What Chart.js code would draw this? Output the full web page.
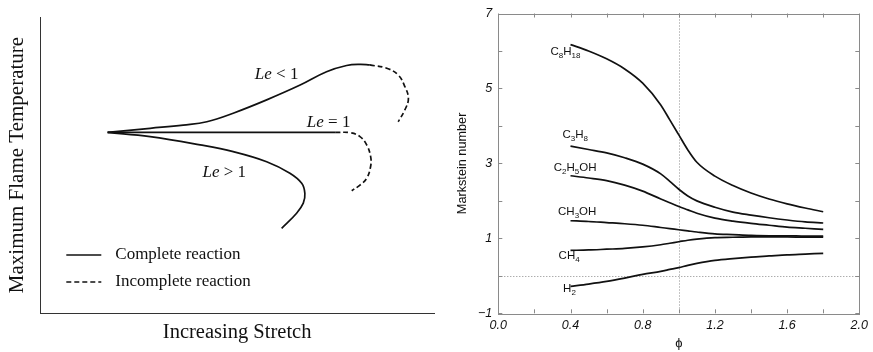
<!DOCTYPE html>
<html lang="en">
  <head>
    <meta charset="UTF-8" />
    <meta name="viewport" content="width=device-width, initial-scale=1.0" />
    <title>Flame stretch and Markstein numbers</title>
    <script src="https://cdn.jsdelivr.net/npm/chart.js@4.4.0/dist/chart.umd.min.js"></script>
    <style>
      body { margin: 0; background: #fff; }
      #wrap { position: relative; width: 873px; height: 352px; }
      .panel { position: absolute; top: 0; height: 352px; }
      #left { left: 0; width: 440px; }
      #right { left: 440px; width: 433px; }
    </style>
  </head>
  <body>
    <div id="wrap">
      <div class="panel" id="left"><canvas id="stretchChart"></canvas></div>
      <div class="panel" id="right"><canvas id="marksteinChart"></canvas></div>
    </div>

    <script>
      // Left panel: max flame temperature vs stretch, arbitrary units (0-10 on both axes)
      const leLtSolidX = [1.71, 2.79, 3.63, 4.23, 4.90, 5.75, 6.60, 7.27, 7.78, 8.12, 8.37];
      const leLtSolidY = [6.10, 6.24, 6.35, 6.46, 6.75, 7.20, 7.70, 8.15, 8.36, 8.40, 8.38];
      const leLtDashX = [8.37, 8.80, 9.09, 9.26, 9.35, 9.26, 9.09];
      const leLtDashY = [8.38, 8.27, 8.04, 7.65, 7.25, 6.86, 6.46];
      const leEqSolidX = [1.71, 7.49];
      const leEqSolidY = [6.10, 6.10];
      const leEqDashX = [7.49, 7.87, 8.12, 8.29, 8.39, 8.39, 8.29, 8.12, 7.91];
      const leEqDashY = [6.10, 6.09, 5.96, 5.68, 5.29, 4.95, 4.55, 4.32, 4.13];
      const leGtSolidX = [1.71, 2.79, 4.06, 4.90, 5.75, 6.34, 6.64, 6.72, 6.68, 6.51, 6.13];
      const leGtSolidY = [6.10, 5.96, 5.68, 5.45, 5.11, 4.72, 4.38, 4.04, 3.71, 3.37, 2.86];

      const leNames = ['Le < 1', 'Le = 1', 'Le > 1'];
      const leLabelX = [5.45, 6.77, 4.12];
      const leLabelY = [7.91, 6.29, 4.58];

      // Right panel: Markstein number vs equivalence ratio
      const phi = [0.4, 0.5, 0.6, 0.7, 0.8, 0.9, 0.95, 1.0, 1.05, 1.1, 1.2, 1.3, 1.4, 1.5, 1.6, 1.7, 1.8];
      const c8h18 = [6.17, 6.00, 5.79, 5.52, 5.14, 4.56, 4.16, 3.76, 3.36, 3.03, 2.66, 2.41, 2.21, 2.05, 1.92, 1.81, 1.71];
      const c3h8 = [3.46, 3.37, 3.28, 3.15, 2.98, 2.72, 2.52, 2.31, 2.13, 2.00, 1.83, 1.70, 1.62, 1.55, 1.49, 1.44, 1.41];
      const c2h5oh = [2.67, 2.61, 2.54, 2.42, 2.26, 2.05, 1.95, 1.85, 1.76, 1.67, 1.54, 1.46, 1.40, 1.35, 1.30, 1.27, 1.24];
      const ch3oh = [1.47, 1.45, 1.42, 1.39, 1.35, 1.29, 1.26, 1.23, 1.20, 1.17, 1.12, 1.10, 1.08, 1.07, 1.07, 1.06, 1.06];
      const ch4 = [0.68, 0.69, 0.71, 0.73, 0.77, 0.83, 0.87, 0.91, 0.95, 0.98, 1.02, 1.03, 1.04, 1.04, 1.04, 1.03, 1.03];
      const h2 = [-0.28, -0.22, -0.15, -0.06, 0.04, 0.12, 0.17, 0.22, 0.28, 0.33, 0.41, 0.46, 0.50, 0.53, 0.56, 0.58, 0.60];

      const fuels = ['C8H18', 'C3H8', 'C2H5OH', 'CH3OH', 'CH4', 'H2'];
      const fuelValues = [c8h18, c3h8, c2h5oh, ch3oh, ch4, h2];
      const fuelLabelPhi = [0.289, 0.356, 0.307, 0.331, 0.334, 0.359];
      const fuelLabelMk = [5.90, 3.68, 2.80, 1.63, 0.46, -0.43];

      const stoichPhi = 1.0;
      const zeroMk = 0;

      const pts = (xs, ys) => xs.map((x, i) => ({ x: x, y: ys[i] }));

      Chart.defaults.devicePixelRatio = 1;
      Chart.defaults.animation = false;
      Chart.defaults.color = '#111';

      const SERIF = '"Liberation Serif", "Times New Roman", serif';
      const SANS = '"Liberation Sans", Arial, sans-serif';

      function curve(data, dashed) {
        return {
          data: data,
          showLine: true,
          borderColor: '#111',
          borderWidth: 1.7,
          borderDash: dashed ? [5, 3] : [],
          pointRadius: 0,
          tension: 0.4,
          fill: false
        };
      }

      // Le labels and the little legend in the lower left
      const stretchNotes = {
        id: 'stretchNotes',
        afterDatasetsDraw(chart) {
          const ctx = chart.ctx;
          const { x, y } = chart.scales;
          const area = chart.chartArea;
          ctx.save();
          ctx.fillStyle = '#111';
          ctx.textBaseline = 'alphabetic';
          leNames.forEach((name, i) => {
            let px = x.getPixelForValue(leLabelX[i]);
            const py = y.getPixelForValue(leLabelY[i]);
            ctx.font = 'italic 17px ' + SERIF;
            ctx.fillText('Le', px, py);
            px += ctx.measureText('Le').width;
            ctx.font = '17px ' + SERIF;
            ctx.fillText(name.slice(2), px, py);
          });

          const rows = [['Complete reaction', []], ['Incomplete reaction', [5, 3]]];
          rows.forEach((row, i) => {
            const ly = area.bottom - 58 + i * 27;
            ctx.strokeStyle = '#111';
            ctx.lineWidth = 1.5;
            ctx.setLineDash(row[1]);
            ctx.beginPath();
            ctx.moveTo(area.left + 26, ly);
            ctx.lineTo(area.left + 61, ly);
            ctx.stroke();
            ctx.setLineDash([]);
            ctx.font = '17px ' + SERIF;
            ctx.textBaseline = 'middle';
            ctx.fillText(row[0], area.left + 75, ly);
          });
          ctx.restore();
        }
      };

      new Chart(document.getElementById('stretchChart'), {
        type: 'scatter',
        data: {
          datasets: [
            curve(pts(leLtSolidX, leLtSolidY), false),
            curve(pts(leLtDashX, leLtDashY), true),
            curve(pts(leEqSolidX, leEqSolidY), false),
            curve(pts(leEqDashX, leEqDashY), true),
            curve(pts(leGtSolidX, leGtSolidY), false)
          ]
        },
        options: {
          responsive: true,
          maintainAspectRatio: false,
          layout: { padding: { top: 17, right: 6, left: 0, bottom: 0 } },
          plugins: { legend: { display: false }, tooltip: { enabled: false } },
          scales: {
            x: {
              min: 0,
              max: 10,
              grid: { display: false, drawTicks: false, tickLength: 0 },
              border: { display: true, color: '#333', width: 1 },
              ticks: { display: false },
              title: {
                display: true,
                text: 'Increasing Stretch',
                font: { family: SERIF, size: 20.5 },
                color: '#111',
                padding: { top: 0, bottom: 7 }
              },
              afterFit(scale) { scale.height = 39; }
            },
            y: {
              min: 0,
              max: 10,
              grid: { display: false, drawTicks: false, tickLength: 0 },
              border: { display: true, color: '#333', width: 1 },
              ticks: { display: false },
              title: {
                display: true,
                text: 'Maximum Flame Temperature',
                font: { family: SERIF, size: 21 },
                color: '#111',
                padding: { top: 5, bottom: 0 }
              },
              afterFit(scale) { scale.width = 40.3; }
            }
          }
        },
        plugins: [stretchNotes]
      });

      // frame with inward ticks on all four sides, dotted guides, formula labels
      const marksteinDecor = {
        id: 'marksteinDecor',
        beforeDatasetsDraw(chart) {
          const ctx = chart.ctx;
          const { x, y } = chart.scales;
          const area = chart.chartArea;
          ctx.save();
          ctx.strokeStyle = '#8a8a8a';
          ctx.lineWidth = 1;
          ctx.setLineDash([1, 2]);
          const gx = Math.round(x.getPixelForValue(stoichPhi)) + 0.5;
          const gy = Math.round(y.getPixelForValue(zeroMk)) + 0.5;
          ctx.beginPath();
          ctx.moveTo(gx, area.top);
          ctx.lineTo(gx, area.bottom);
          ctx.moveTo(area.left, gy);
          ctx.lineTo(area.right, gy);
          ctx.stroke();
          ctx.restore();
        },
        afterDatasetsDraw(chart) {
          const ctx = chart.ctx;
          const { x, y } = chart.scales;
          const area = chart.chartArea;
          const tick = 4;
          ctx.save();
          ctx.strokeStyle = '#8a8a8a';
          ctx.lineWidth = 1;
          ctx.strokeRect(Math.round(area.left) + 0.5, Math.round(area.top) + 0.5,
            Math.round(area.right - area.left), Math.round(area.bottom - area.top));
          ctx.beginPath();
          x.ticks.forEach(t => {
            const px = Math.round(x.getPixelForValue(t.value)) + 0.5;
            ctx.moveTo(px, area.bottom);
            ctx.lineTo(px, area.bottom - tick);
            ctx.moveTo(px, area.top);
            ctx.lineTo(px, area.top + tick);
          });
          y.ticks.forEach(t => {
            const py = Math.round(y.getPixelForValue(t.value)) + 0.5;
            ctx.moveTo(area.left, py);
            ctx.lineTo(area.left + tick, py);
            ctx.moveTo(area.right, py);
            ctx.lineTo(area.right - tick, py);
          });
          ctx.stroke();

          // chemical formulas: digits set as subscripts
          ctx.fillStyle = '#111';
          ctx.textBaseline = 'alphabetic';
          const size = 11.5;
          fuels.forEach((name, i) => {
            let px = x.getPixelForValue(fuelLabelPhi[i]);
            const py = y.getPixelForValue(fuelLabelMk[i]);
            for (const ch of name) {
              const sub = /\d/.test(ch);
              ctx.font = (sub ? 8 : size) + 'px ' + SANS;
              ctx.fillText(ch, px, sub ? py + 3.5 : py);
              px += ctx.measureText(ch).width;
            }
          });
          ctx.restore();
        }
      };

      new Chart(document.getElementById('marksteinChart'), {
        type: 'scatter',
        data: {
          datasets: fuelValues.map((vals, i) => ({
            label: fuels[i],
            data: pts(phi, vals),
            showLine: true,
            borderColor: '#111',
            borderWidth: 1.7,
            pointRadius: 0,
            cubicInterpolationMode: 'monotone',
            fill: false
          }))
        },
        options: {
          responsive: true,
          maintainAspectRatio: false,
          layout: { padding: { top: 11.7, right: 9.7, left: 0, bottom: 0 } },
          plugins: { legend: { display: false }, tooltip: { enabled: false } },
          scales: {
            x: {
              min: 0,
              max: 2,
              grid: { display: false, drawTicks: false, tickLength: 0 },
              border: { display: false },
              ticks: {
                stepSize: 0.2,
                autoSkip: false,
                maxRotation: 0,
                padding: 5,
                color: '#111',
                font: { family: SANS, size: 12.5, style: 'italic' },
                callback: v => (Math.round(v * 10) % 4 === 0 ? v.toFixed(1) : '')
              },
              title: {
                display: true,
                text: 'ϕ',
                font: { family: SANS, size: 13 },
                color: '#111',
                padding: { top: 0, bottom: 1 }
              },
              afterFit(scale) { scale.height = 38.7; }
            },
            y: {
              min: -1,
              max: 7,
              grid: { display: false, drawTicks: false, tickLength: 0 },
              border: { display: false },
              ticks: {
                stepSize: 1,
                autoSkip: false,
                padding: 6,
                color: '#111',
                font: { family: SANS, size: 12.5, style: 'italic' },
                callback: v => (Math.abs(v) % 2 === 1 ? String(v).replace('-', '\u2212') : '')
              },
              title: {
                display: true,
                text: 'Markstein number',
                font: { family: SANS, size: 12.7 },
                color: '#111',
                padding: { top: 15, bottom: 0 }
              },
              afterFit(scale) { scale.width = 58.3; }
            }
          }
        },
        plugins: [marksteinDecor]
      });
    </script>
  </body>
</html>
